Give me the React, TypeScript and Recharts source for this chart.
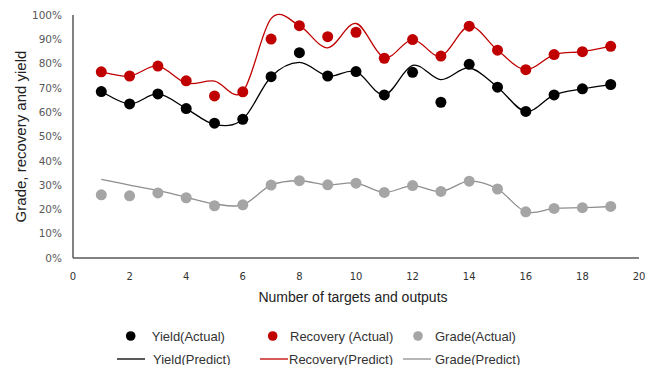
import React from 'react';
import { ComposedChart, Line, XAxis, YAxis, Legend } from 'recharts';

const targets = [1, 2, 3, 4, 5, 6, 7, 8, 9, 10, 11, 12, 13, 14, 15, 16, 17, 18, 19];
const yieldActual = [68.5, 63.4, 67.5, 61.5, 55.5, 57.1, 74.6, 84.5, 74.9, 76.7, 67.1, 76.4, 64.1, 79.7, 70.3, 60.3, 67.1, 69.6, 71.4];
const recoveryActual = [76.6, 74.9, 79.0, 72.9, 66.7, 68.4, 90.1, 95.6, 91.1, 92.9, 82.2, 89.9, 83.1, 95.4, 85.5, 77.5, 83.7, 84.9, 87.1];
const gradeActual = [26.0, 25.6, 26.8, 24.8, 21.5, 21.9, 30.0, 31.8, 30.1, 30.8, 27.0, 29.8, 27.4, 31.6, 28.4, 19.0, 20.4, 20.7, 21.2];
const yieldPredict = [68.5, 63.4, 67.5, 61.5, 55.0, 57.1, 74.6, 80.5, 74.9, 76.7, 67.1, 79.3, 73.4, 78.2, 70.3, 60.3, 67.1, 69.6, 71.4];
const recoveryPredict = [76.6, 74.9, 79.0, 72.0, 72.8, 68.4, 98.5, 95.6, 86.5, 96.5, 82.5, 89.9, 83.1, 95.4, 85.5, 77.5, 83.7, 84.9, 87.1];
const gradePredict = [32.4, 30.0, 27.8, 25.0, 22.3, 21.9, 30.0, 31.8, 30.1, 30.8, 27.0, 29.8, 27.4, 31.6, 28.4, 19.0, 20.4, 20.7, 21.2];

const xTicks = [0, 2, 4, 6, 8, 10, 12, 14, 16, 18, 20];
const yTicks = [0, 10, 20, 30, 40, 50, 60, 70, 80, 90, 100];

const data = targets.map((t, i) => ({
  t,
  yieldActual: yieldActual[i],
  recoveryActual: recoveryActual[i],
  gradeActual: gradeActual[i],
  yieldPredict: yieldPredict[i],
  recoveryPredict: recoveryPredict[i],
  gradePredict: gradePredict[i],
}));

// Excel-like smoothed line (Catmull-Rom through the points)
const excelSmooth = (context: any) => {
  let pts: number[][] = [];
  return {
    areaStart() {},
    areaEnd() {},
    lineStart() {
      pts = [];
    },
    lineEnd() {
      const n = pts.length;
      if (n === 0) return;
      context.moveTo(pts[0][0], pts[0][1]);
      for (let i = 0; i < n - 1; i++) {
        const p0 = pts[i > 0 ? i - 1 : i];
        const p1 = pts[i];
        const p2 = pts[i + 1];
        const p3 = pts[i + 2 < n ? i + 2 : i + 1];
        context.bezierCurveTo(
          p1[0] + (p2[0] - p0[0]) / 6,
          p1[1] + (p2[1] - p0[1]) / 6,
          p2[0] - (p3[0] - p1[0]) / 6,
          p2[1] - (p3[1] - p1[1]) / 6,
          p2[0],
          p2[1]
        );
      }
    },
    point(x: number, y: number) {
      pts.push([+x, +y]);
    },
  };
};

const BLACK = '#000000';
const RED = '#c00000';
const GRAY = '#a5a5a5';
const GRAY_LINE = '#8f8f8f';

const legendItems = [
  { label: 'Yield(Actual)', color: BLACK, kind: 'dot', mx: 130.7, tx: 151.7, row: 0 },
  { label: 'Recovery (Actual)', color: RED, kind: 'dot', mx: 272.7, tx: 290, row: 0 },
  { label: 'Grade(Actual)', color: GRAY, kind: 'dot', mx: 418, tx: 435, row: 0 },
  { label: 'Yield(Predict)', color: BLACK, kind: 'line', mx: 117, tx: 153, row: 1 },
  { label: 'Recovery(Predict)', color: RED, kind: 'line', mx: 260, tx: 289, row: 1 },
  { label: 'Grade(Predict)', color: GRAY_LINE, kind: 'line', mx: 403, tx: 435, row: 1 },
];

const renderLegend = () => (
  <svg width={646} height={47} style={{ display: 'block' }}>
    {legendItems.map((it) => {
      const cy = it.row === 0 ? 18 : 41;
      return (
        <g key={it.label}>
          {it.kind === 'dot' ? (
            <circle cx={it.mx} cy={cy} r={4.8} fill={it.color} />
          ) : (
            <line x1={it.mx} x2={it.mx + 28} y1={cy} y2={cy} stroke={it.color} strokeWidth={1.3} />
          )}
          <text
            x={it.tx}
            y={cy}
            dominantBaseline="central"
            fontFamily="'Liberation Sans', Arial, sans-serif"
            fontSize={13}
            fill="#333333"
          >
            {it.label}
          </text>
        </g>
      );
    })}
  </svg>
);

const YTitle = (props: any) => {
  const vb = props.viewBox || { x: 0, y: 15, width: 73, height: 243 };
  const x = vb.x + 20;
  const y = vb.y + vb.height / 2;
  return (
    <text
      x={x}
      y={y}
      transform={`rotate(-90 ${x} ${y})`}
      textAnchor="middle"
      dominantBaseline="central"
      fontFamily="'Liberation Sans', Arial, sans-serif"
      fontSize={15}
      fill="#222222"
    >
      Grade, recovery and yield
    </text>
  );
};

const XTitle = (props: any) => {
  const vb = props.viewBox || { x: 73, y: 258, width: 566, height: 50 };
  const x = vb.x + vb.width / 2 - 3;
  const y = vb.y + 39;
  return (
    <text
      x={x}
      y={y}
      textAnchor="middle"
      dominantBaseline="central"
      fontFamily="'Liberation Sans', Arial, sans-serif"
      fontSize={14}
      fill="#222222"
    >
      Number of targets and outputs
    </text>
  );
};

export default function App() {
  return (
    <div style={{ position: 'absolute', left: 0, top: 0, width: 646, height: 365 }}>
      <ComposedChart
        width={646}
        height={365}
        data={data}
        margin={{ top: 15, right: 7, left: 0, bottom: 57 }}
      >
        <XAxis
          type="number"
          dataKey="t"
          domain={[0, 20]}
          ticks={xTicks}
          interval={0}
          height={50}
          tickLine={false}
          tickMargin={9}
          axisLine={{ stroke: '#595959', strokeWidth: 1.5 }}
          tick={{ fontSize: 10, fill: '#333333', fontFamily: "'DejaVu Sans', sans-serif" }}
          label={{ content: XTitle }}
        />
        <YAxis
          type="number"
          domain={[0, 100]}
          ticks={yTicks}
          interval={0}
          width={73}
          tickLine={false}
          tickMargin={5}
          tickFormatter={(v: number) => `${v}%`}
          axisLine={{ stroke: '#595959', strokeWidth: 1.5 }}
          tick={{ fontSize: 10.5, fill: '#595959', fontFamily: "'DejaVu Sans', sans-serif" }}
          label={{ content: YTitle }}
        />
        <Legend
          verticalAlign="middle"
          align="center"
          layout="horizontal"
          wrapperStyle={{ top: 318, left: 0, width: 646, height: 47 }}
          content={renderLegend}
        />
        <Line dataKey="gradePredict" type={excelSmooth as any} stroke={GRAY_LINE} strokeWidth={1.3} dot={false} activeDot={false} isAnimationActive={false} />
        <Line dataKey="yieldPredict" type={excelSmooth as any} stroke={BLACK} strokeWidth={1.3} dot={false} activeDot={false} isAnimationActive={false} />
        <Line dataKey="recoveryPredict" type={excelSmooth as any} stroke={RED} strokeWidth={1.3} dot={false} activeDot={false} isAnimationActive={false} />
        <Line dataKey="gradeActual" stroke="none" dot={{ r: 5.5, fill: GRAY, stroke: 'none' }} activeDot={false} isAnimationActive={false} />
        <Line dataKey="yieldActual" stroke="none" dot={{ r: 5.5, fill: BLACK, stroke: 'none' }} activeDot={false} isAnimationActive={false} />
        <Line dataKey="recoveryActual" stroke="none" dot={{ r: 5.5, fill: RED, stroke: 'none' }} activeDot={false} isAnimationActive={false} />
      </ComposedChart>
    </div>
  );
}
